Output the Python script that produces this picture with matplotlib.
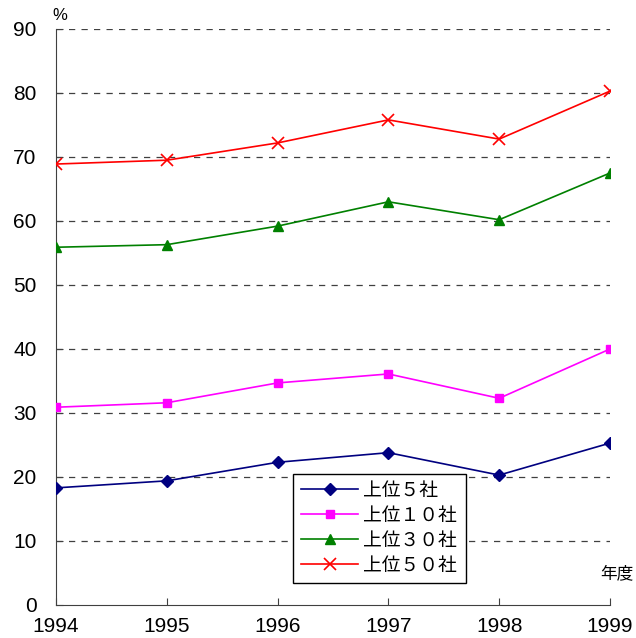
import matplotlib
matplotlib.use("Agg")
from matplotlib import pyplot as plt

plt.rcParams['font.family'] = ['Liberation Sans', 'Noto Sans CJK JP', 'DejaVu Sans']

years = [1994, 1995, 1996, 1997, 1998, 1999]
top5 = [18.3, 19.4, 22.3, 23.8, 20.3, 25.3]
top10 = [30.9, 31.6, 34.7, 36.1, 32.3, 40.0]
top30 = [55.9, 56.3, 59.2, 63.0, 60.2, 67.5]
top50 = [68.9, 69.5, 72.2, 75.8, 72.8, 80.3]
labels = ["上位５社", "上位１０社", "上位３０社", "上位５０社"]

fig = plt.figure(figsize=(6.36, 6.38), dpi=100)
ax = fig.add_axes([56 / 636, 33 / 638, 554 / 636, 576 / 638])

# dashed grid lines
for v in range(10, 100, 10):
    ax.axhline(v, color='#404040', lw=0.9, ls=(0, (5, 5)), zorder=1)

ax.plot(years, top5, color='#000080', marker='D', ms=6, lw=1.2, label=labels[0], zorder=3)
ax.plot(years, top10, color='#ff00ff', marker='s', ms=6, lw=1.2, label=labels[1], zorder=3)
ax.plot(years, top30, color='#008000', marker='^', ms=7, lw=1.2, label=labels[2], zorder=3)
ax.plot(years, top50, color='#ff0000', marker='x', ms=8, mew=1.2, lw=1.2, label=labels[3], zorder=3)

ax.set_xlim(1994, 1999)
ax.set_ylim(0, 90)
ax.set_xticks(years)
ax.set_yticks(range(0, 100, 10))
ax.spines['top'].set_visible(False)
ax.spines['right'].set_visible(False)
ax.spines['left'].set_color('#404040')
ax.spines['bottom'].set_color('#404040')
ax.tick_params(axis='both', direction='in', length=5, labelsize=15, color='#404040')
ax.tick_params(axis='y', pad=14)
ax.tick_params(axis='x', pad=9)
for lab in ax.get_xticklabels():
    lab.set_clip_on(False)

fig.text(60 / 636, 1 - 15 / 638, "%", fontsize=12, ha='center', va='center')
fig.text(617 / 636, 1 - 573 / 638, "年度", fontsize=12, ha='center', va='center')

leg = ax.legend(loc='upper left', bbox_to_anchor=(293 / 636, 1 - 474 / 638),
                bbox_transform=fig.transFigure, fancybox=False, edgecolor='black',
                fontsize=13.5, handlelength=3.0, handletextpad=0.3, borderpad=0.45,
                labelspacing=0.42, borderaxespad=0, framealpha=1)
leg.get_frame().set_linewidth(1.0)

fig.savefig("out.png", dpi=100)
